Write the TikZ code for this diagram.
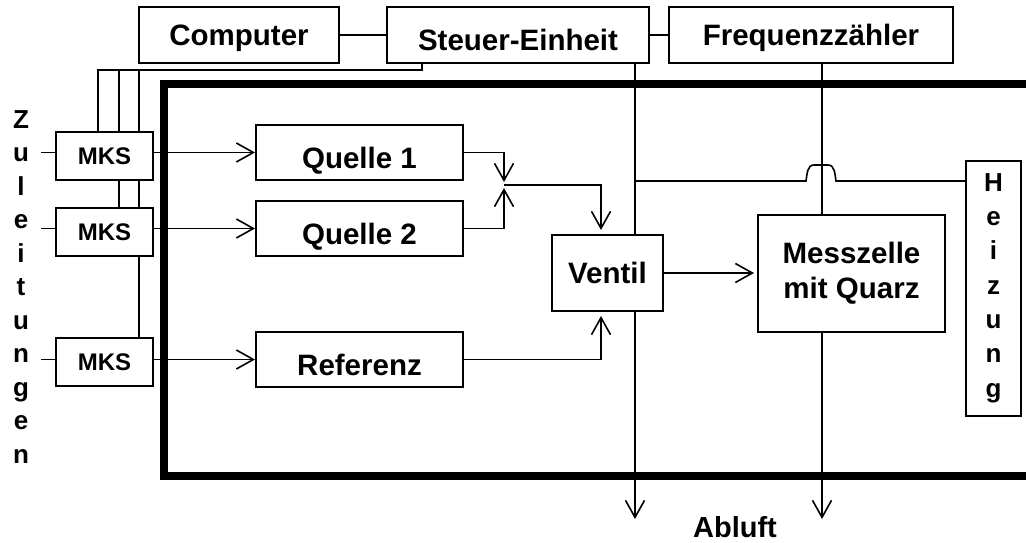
\documentclass[tikz,border=0pt]{standalone}
\usepackage{fontspec}
\setmainfont{Liberation Sans}
\usetikzlibrary{arrows.meta, positioning, backgrounds}

\begin{document}
\begin{tikzpicture}[
    x=1pt, y=-1pt,
    box/.style={draw, rectangle, fill=white, line width=2pt, inner sep=0pt, align=center, text height=21pt, text depth=0pt, font=\fontsize{29.5}{35}\selectfont\bfseries},
    low/.style={text height=31pt},
    multi/.style={text height={}, text depth={}},
    mksbox/.style={box, minimum width=97pt, minimum height=48pt, text height=17pt, font=\fontsize{24}{26}\selectfont\bfseries},
    srcbox/.style={box, low, minimum width=207pt, minimum height=55pt},
    letters/.style={align=center, inner sep=0pt, font=\fontsize{26}{33.5}\selectfont\bfseries},
    line/.style={line width=1.6pt},
    arrow/.style={line, -{Straight Barb[length=17pt, width=19pt]}},
    frame/.style={line width=7.5pt}
]
    \useasboundingbox (0,0) rectangle (1026,543);

    % Thick housing
    \draw[frame] (164,84) rectangle (1045,476);

    % Top row
    \node[box, minimum width=200pt, minimum height=56pt] (comp) at (239,35) {Computer};
    \node[box, low, minimum width=262pt, minimum height=56pt] (steuer) at (518,35) {Steuer-Einheit};
    \node[box, minimum width=284pt, minimum height=56pt] (freq) at (811,35) {Frequenzzähler};

    % Gas inlets
    \node[letters] (zul) at (21,287) {Z\\u\\l\\e\\i\\t\\u\\n\\g\\e\\n};
    \node[mksbox] (mks1) at (104.5,156) {MKS};
    \node[mksbox] (mks2) at (104.5,232) {MKS};
    \node[mksbox] (mks3) at (104.5,362) {MKS};

    % Sources
    \node[srcbox] (q1) at (359.5,152.5) {Quelle 1};
    \node[srcbox] (q2) at (359.5,228.5) {Quelle 2};
    \node[srcbox] (ref) at (359.5,359.5) {Referenz};

    % Valve, cell, heater
    \node[box, minimum width=111pt, minimum height=76pt] (ventil) at (607.5,273) {Ventil};
    \node[box, multi, minimum width=187pt, minimum height=117pt] (mess) at (851.5,273.5) {Messzelle\\mit Quarz};
    \node[box, multi, minimum width=55pt, minimum height=255pt, font=\fontsize{26}{34.3}\selectfont\bfseries] (heiz) at (993.5,288) {H\\e\\i\\z\\u\\n\\g};

    \node[font=\fontsize{29}{34}\selectfont\bfseries, anchor=base, inner sep=0pt] (abluft) at (735,537) {Abluft};

    % Helper points
    \coordinate (bus) at (422,70);
    \coordinate (b1) at (98,70);
    \coordinate (b2) at (119,70);
    \coordinate (b3) at (139,70);
    \coordinate (ja) at (504,182);
    \coordinate (jb) at (504,188);
    \coordinate (jn) at (504,185);
    \coordinate (vin) at (601,0);
    \coordinate (vl) at (635,0);
    \coordinate (ql) at (822,0);
    \coordinate (hj) at (635,181);
    \coordinate (out1) at (635,519);
    \coordinate (out2) at (822,519);

    % Top links
    \draw[line] (comp) -- (steuer);
    \draw[line] (steuer) -- (freq);

    % Control bus to the MKS units
    \draw[line] (bus |- steuer.south) -- (bus) -- (b1) -- (b1 |- mks1.north);
    \draw[line] (b2) -- (b2 |- mks1.north);
    \draw[line] (b2 |- mks1.south) -- (b2 |- mks2.north);
    \draw[line] (b3) -- (b3 |- mks1.north);
    \draw[line] (b3 |- mks1.south) -- (b3 |- mks2.north);
    \draw[line] (b3 |- mks2.south) -- (b3 |- mks3.north);

    % Inlet stubs
    \draw[line] (mks1.west |- q1) -- ++(-14,0);
    \draw[line] (mks2.west |- q2) -- ++(-14,0);
    \draw[line] (mks3.west |- ref) -- ++(-14,0);

    % Gas flow
    \draw[arrow] (mks1.east |- q1) -- (q1.west);
    \draw[arrow] (mks2.east |- q2) -- (q2.west);
    \draw[arrow] (mks3.east |- ref) -- (ref.west);
    \draw[arrow] (q1.east) -| (ja);
    \draw[arrow] (q2.east) -| (jb);
    \draw[arrow, shorten >=4pt] (jn) -| (vin |- ventil.north);
    \draw[arrow, shorten >=4pt] (ref.east) -| (vin |- ventil.south);
    \draw[arrow, shorten >=3pt] (ventil.east) -- (ventil.east -| mess.west);

    % Control and exhaust lines
    \draw[line] (vl |- steuer.south) -- (vl |- ventil.north);
    \draw[arrow] (vl |- ventil.south) -- (out1);
    \draw[line] (ql |- freq.south) -- (ql |- mess.north);
    \draw[arrow] (ql |- mess.south) -- (out2);

    % Heater line with crossover
    \draw[line] (hj) -- (806,181) to[out=80, in=180] (814,165) -- (828,165)
        to[out=0, in=100] (836,181) -- (heiz.west |- hj);

\end{tikzpicture}
\end{document}
